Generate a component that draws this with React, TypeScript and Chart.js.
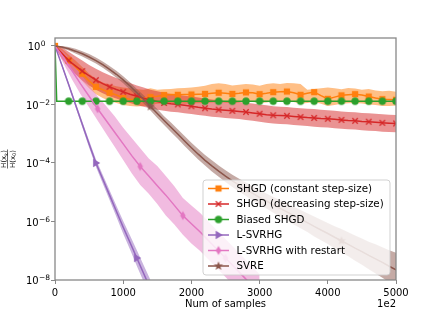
import { useEffect, useRef } from "react";
import { Chart, registerables } from "chart.js";

Chart.register(...registerables);

const FONT = "'DejaVu Sans', 'Liberation Sans', sans-serif";

// x positions (units of 1e2 samples)
const samples = [0, 100, 200, 300, 400, 500, 600, 700, 800, 900, 1000, 1100, 1200, 1300, 1400, 1500, 1600, 1700, 1800, 1900, 2000, 2100, 2200, 2300, 2400, 2500, 2600, 2700, 2800, 2900, 3000, 3100, 3200, 3300, 3400, 3500, 3600, 3700, 3800, 3900, 4000, 4100, 4200, 4300, 4400, 4500, 4600, 4700, 4800, 4900, 5000];
const biasedSamples = [0, 25, 100, 200, 300, 400, 500, 600, 700, 800, 900, 1000, 1100, 1200, 1300, 1400, 1500, 1600, 1700, 1800, 1900, 2000, 2100, 2200, 2300, 2400, 2500, 2600, 2700, 2800, 2900, 3000, 3100, 3200, 3300, 3400, 3500, 3600, 3700, 3800, 3900, 4000, 4100, 4200, 4300, 4400, 4500, 4600, 4700, 4800, 4900, 5000];
const lsvrhgSamples = [0, 100, 200, 300, 400, 500, 600, 700, 800, 900, 1000, 1100, 1200, 1300, 1400];
const restartSamples = [0, 125, 250, 375, 500, 625, 750, 875, 1000, 1125, 1250, 1375, 1500, 1625, 1750, 1875, 2000, 2125, 2250, 2375, 2500, 2625, 2750, 2875, 3000];

const xTicks = [0, 1000, 2000, 3000, 4000, 5000];
const yTickExponents = [0, -2, -4, -6, -8];

const labels = [
  "SHGD (constant step-size)",
  "SHGD (decreasing step-size)",
  "Biased SHGD",
  "L-SVRHG",
  "L-SVRHG with restart",
  "SVRE",
];

// values as log10 of H(x_k)/H(x_0)
const constMean = [0, -0.25, -0.5, -0.72, -0.95, -1.2, -1.4, -1.5, -1.6, -1.68, -1.78, -1.82, -1.84, -1.8, -1.75, -1.72, -1.68, -1.66, -1.67, -1.66, -1.66, -1.65, -1.64, -1.62, -1.6, -1.62, -1.64, -1.62, -1.59, -1.6, -1.65, -1.62, -1.58, -1.57, -1.56, -1.6, -1.67, -1.62, -1.58, -1.7, -1.81, -1.75, -1.69, -1.67, -1.65, -1.68, -1.73, -1.78, -1.82, -1.83, -1.84];
const constHi = [0.05, -0.1, -0.3, -0.5, -0.72, -0.95, -1.12, -1.25, -1.32, -1.38, -1.42, -1.45, -1.48, -1.5, -1.45, -1.5, -1.48, -1.47, -1.45, -1.44, -1.42, -1.4, -1.36, -1.3, -1.28, -1.3, -1.35, -1.33, -1.3, -1.32, -1.36, -1.3, -1.28, -1.3, -1.27, -1.28, -1.3, -1.5, -1.47, -1.45, -1.42, -1.45, -1.48, -1.44, -1.46, -1.5, -1.47, -1.52, -1.55, -1.53, -1.57];
const constLo = [-0.05, -0.4, -0.7, -0.95, -1.2, -1.45, -1.65, -1.78, -1.88, -1.95, -2.02, -2.05, -2.07, -2.05, -2.02, -1.98, -1.97, -1.96, -1.97, -1.98, -1.97, -1.96, -1.95, -1.93, -1.92, -1.94, -1.96, -1.93, -1.91, -1.92, -1.95, -1.93, -1.9, -1.9, -1.88, -1.92, -1.98, -1.95, -1.92, -1.98, -2.05, -2.02, -1.98, -1.96, -1.95, -1.97, -2.0, -2.02, -2.05, -2.05, -2.04];

const decMean = [0, -0.25, -0.5, -0.68, -0.86, -1.02, -1.17, -1.29, -1.4, -1.49, -1.57, -1.65, -1.72, -1.79, -1.85, -1.9, -1.95, -1.98, -2.0, -2.03, -2.06, -2.1, -2.13, -2.16, -2.18, -2.2, -2.22, -2.24, -2.26, -2.29, -2.32, -2.35, -2.37, -2.38, -2.39, -2.41, -2.43, -2.45, -2.46, -2.48, -2.49, -2.51, -2.53, -2.55, -2.56, -2.58, -2.59, -2.61, -2.63, -2.64, -2.65];
const decHi = [0.05, -0.05, -0.2, -0.35, -0.5, -0.65, -0.78, -0.9, -1.0, -1.1, -1.18, -1.27, -1.35, -1.42, -1.5, -1.55, -1.6, -1.64, -1.67, -1.7, -1.73, -1.76, -1.8, -1.83, -1.86, -1.88, -1.9, -1.92, -1.94, -1.97, -2.0, -2.03, -2.06, -2.08, -2.09, -2.11, -2.13, -2.15, -2.16, -2.18, -2.2, -2.22, -2.24, -2.26, -2.27, -2.29, -2.3, -2.32, -2.34, -2.35, -2.36];
const decLo = [-0.05, -0.45, -0.75, -0.98, -1.18, -1.35, -1.5, -1.62, -1.72, -1.8, -1.88, -1.95, -2.02, -2.08, -2.13, -2.18, -2.22, -2.25, -2.27, -2.3, -2.33, -2.36, -2.39, -2.42, -2.44, -2.46, -2.48, -2.5, -2.53, -2.56, -2.59, -2.63, -2.65, -2.67, -2.68, -2.7, -2.72, -2.74, -2.76, -2.78, -2.79, -2.81, -2.83, -2.85, -2.86, -2.88, -2.9, -2.91, -2.93, -2.94, -2.95];

const biasedMean = [0, -1.89, -1.89, -1.89, -1.89, -1.89, -1.89, -1.89, -1.89, -1.89, -1.89, -1.89, -1.89, -1.89, -1.89, -1.89, -1.89, -1.89, -1.89, -1.89, -1.89, -1.89, -1.89, -1.89, -1.89, -1.89, -1.89, -1.89, -1.89, -1.89, -1.89, -1.89, -1.89, -1.89, -1.89, -1.89, -1.89, -1.89, -1.89, -1.89, -1.89, -1.89, -1.89, -1.89, -1.89, -1.89, -1.89, -1.89, -1.89, -1.89, -1.89, -1.89];

const lsvrhgMean = [0, -0.65, -1.32, -2.0, -2.68, -3.35, -4.0, -4.55, -5.1, -5.65, -6.2, -6.72, -7.25, -7.78, -8.3];
const lsvrhgHi = [0, -0.6, -1.25, -1.92, -2.58, -3.23, -3.87, -4.4, -4.93, -5.46, -5.98, -6.48, -6.98, -7.5, -8.0];
const lsvrhgLo = [0, -0.7, -1.39, -2.08, -2.78, -3.47, -4.13, -4.7, -5.27, -5.84, -6.42, -6.96, -7.52, -8.06, -8.6];

const restartMean = [0, -0.4, -0.85, -1.3, -1.72, -2.15, -2.55, -2.95, -3.35, -3.75, -4.12, -4.45, -4.78, -5.1, -5.45, -5.8, -6.08, -6.35, -6.65, -6.95, -7.25, -7.55, -7.85, -8.15, -8.45];
const restartHi = [0.02, -0.2, -0.55, -0.95, -1.35, -1.72, -2.05, -2.4, -2.8, -3.15, -3.5, -3.85, -4.1, -4.45, -4.8, -5.2, -5.45, -5.7, -6.0, -6.3, -6.6, -6.9, -7.2, -7.5, -7.8];
const restartLo = [-0.02, -0.6, -1.15, -1.65, -2.1, -2.55, -3.0, -3.45, -3.9, -4.35, -4.75, -5.05, -5.4, -5.8, -6.1, -6.45, -6.75, -7.0, -7.3, -7.6, -7.9, -8.2, -8.5, -8.8, -9.1];

const svreMean = [0, -0.04, -0.1, -0.18, -0.27, -0.38, -0.5, -0.64, -0.8, -0.97, -1.16, -1.37, -1.6, -1.83, -2.07, -2.31, -2.55, -2.78, -3.01, -3.25, -3.48, -3.7, -3.91, -4.1, -4.28, -4.45, -4.61, -4.76, -4.9, -5.04, -5.18, -5.3, -5.43, -5.55, -5.67, -5.8, -5.92, -6.04, -6.17, -6.29, -6.41, -6.54, -6.66, -6.78, -6.91, -7.03, -7.16, -7.28, -7.4, -7.53, -7.65];
const svreHi = [0, 0.0, -0.04, -0.1, -0.18, -0.28, -0.4, -0.53, -0.69, -0.85, -1.04, -1.24, -1.47, -1.69, -1.93, -2.16, -2.4, -2.62, -2.85, -3.08, -3.31, -3.52, -3.73, -3.91, -4.09, -4.25, -4.4, -4.54, -4.67, -4.8, -4.93, -5.04, -5.16, -5.27, -5.38, -5.5, -5.61, -5.72, -5.83, -5.94, -6.05, -6.16, -6.26, -6.37, -6.48, -6.58, -6.69, -6.78, -6.88, -6.98, -7.07];
const svreLo = [0, -0.08, -0.16, -0.26, -0.36, -0.48, -0.6, -0.75, -0.91, -1.09, -1.28, -1.5, -1.73, -1.97, -2.21, -2.46, -2.7, -2.94, -3.17, -3.42, -3.65, -3.88, -4.09, -4.29, -4.47, -4.65, -4.82, -4.98, -5.13, -5.28, -5.43, -5.56, -5.7, -5.83, -5.96, -6.1, -6.23, -6.36, -6.51, -6.64, -6.77, -6.92, -7.06, -7.19, -7.34, -7.48, -7.63, -7.78, -7.92, -8.08, -8.23];

// where markers are drawn (x positions)
const constMarks = [0, 200, 400, 600, 800, 1000, 1200, 1400, 1600, 1800, 2000, 2200, 2400, 2600, 2800, 3000, 3200, 3400, 3600, 3800, 4000, 4200, 4400, 4600, 4800, 5000];
const decMarks = [200, 400, 600, 800, 1000, 1200, 1400, 1600, 1800, 2000, 2200, 2400, 2600, 2800, 3000, 3200, 3400, 3600, 3800, 4000, 4200, 4400, 4600, 4800, 5000];
const biasedMarks = [200, 400, 600, 800, 1000, 1200, 1400, 1600, 1800, 2000, 2200, 2400, 2600, 2800, 3000, 3200, 3400, 3600, 3800, 4000, 4200, 4400, 4600, 4800, 5000];
const lsvrhgMarks = [600, 1200];
const restartMarks = [625, 1250, 1875, 2500];
const svreMarks = [1400, 2800, 4200];

const COLORS = ["#ff7f0e", "#d62728", "#2ca02c", "#9467bd", "#e377c2", "#8c564b"];
const BANDS = [
  "rgba(255,127,14,0.5)",
  "rgba(214,39,40,0.5)",
  "rgba(44,160,44,0.5)",
  "rgba(148,103,189,0.5)",
  "rgba(227,119,194,0.5)",
  "rgba(140,86,75,0.5)",
];
const MARKER_KINDS = ["square", "x", "circle", "tri", "diamond", "star"];

function toPoints(xs: number[], logs: number[]) {
  return xs.map((x, i) => ({ x, y: Math.pow(10, logs[i]) }));
}

function makeMarker(kind: string, color: string): HTMLCanvasElement {
  const c = document.createElement("canvas");
  c.width = 14;
  c.height = 14;
  const g = c.getContext("2d")!;
  const m = 7;
  g.fillStyle = color;
  g.strokeStyle = color;
  g.beginPath();
  if (kind === "square") {
    g.fillRect(m - 3.1, m - 3.1, 6.2, 6.2);
  } else if (kind === "x") {
    g.lineWidth = 1.3;
    g.moveTo(m - 2.7, m - 2.7);
    g.lineTo(m + 2.7, m + 2.7);
    g.moveTo(m + 2.7, m - 2.7);
    g.lineTo(m - 2.7, m + 2.7);
    g.stroke();
  } else if (kind === "circle") {
    g.arc(m, m, 3.7, 0, Math.PI * 2);
    g.fill();
  } else if (kind === "tri") {
    g.moveTo(m + 4.3, m);
    g.lineTo(m - 2.8, m - 4.2);
    g.lineTo(m - 2.8, m + 4.2);
    g.closePath();
    g.fill();
  } else if (kind === "diamond") {
    g.moveTo(m, m - 4.6);
    g.lineTo(m + 2.7, m);
    g.lineTo(m, m + 4.6);
    g.lineTo(m - 2.7, m);
    g.closePath();
    g.fill();
  } else if (kind === "star") {
    for (let i = 0; i < 10; i++) {
      const r = i % 2 === 0 ? 4.8 : 2.0;
      const ang = -Math.PI / 2 + (i * Math.PI) / 5;
      const px = m + r * Math.cos(ang);
      const py = m + r * Math.sin(ang);
      if (i === 0) g.moveTo(px, py);
      else g.lineTo(px, py);
    }
    g.closePath();
    g.fill();
  }
  return c;
}

export default function App() {
  const ref = useRef<HTMLCanvasElement | null>(null);

  useEffect(() => {
    document.body.style.margin = "0";
    const canvas = ref.current;
    if (!canvas) return;

    const markers = MARKER_KINDS.map((k, i) => makeMarker(k, COLORS[i]));

    const band = (xs: number[], hi: number[], lo: number[], color: string, order: number) => [
      {
        data: toPoints(xs, hi),
        borderColor: "rgba(0,0,0,0)",
        borderWidth: 0,
        pointRadius: 0,
        fill: "+1",
        backgroundColor: color,
        order,
      },
      {
        data: toPoints(xs, lo),
        borderColor: "rgba(0,0,0,0)",
        borderWidth: 0,
        pointRadius: 0,
        fill: false,
        order,
      },
    ];

    const line = (xs: number[], mean: number[], idx: number, marks: number[], order: number) => ({
      label: labels[idx],
      data: toPoints(xs, mean),
      borderColor: COLORS[idx],
      backgroundColor: COLORS[idx],
      borderWidth: 1.5,
      fill: false,
      pointStyle: markers[idx],
      pointRadius: (ctx: any) => (ctx.raw && marks.includes(ctx.raw.x) ? 4 : 0),
      order,
    });

    const datasets: any[] = [
      ...band(samples, constHi, constLo, BANDS[0], 20),
      ...band(samples, decHi, decLo, BANDS[1], 19),
      ...band(lsvrhgSamples, lsvrhgHi, lsvrhgLo, BANDS[3], 18),
      ...band(restartSamples, restartHi, restartLo, BANDS[4], 17),
      ...band(samples, svreHi, svreLo, BANDS[5], 16),
      line(samples, constMean, 0, constMarks, 10),
      line(samples, decMean, 1, decMarks, 9),
      line(biasedSamples, biasedMean, 2, biasedMarks, 8),
      line(lsvrhgSamples, lsvrhgMean, 3, lsvrhgMarks, 7),
      line(restartSamples, restartMean, 4, restartMarks, 6),
      line(samples, svreMean, 5, svreMarks, 5),
    ];

    const decor = {
      id: "decor",
      afterDraw(chart: any) {
        const { ctx, chartArea: a, scales } = chart;
        ctx.save();

        // legend
        const lw = 187;
        const lh = 95;
        const lx = a.right - 6 - lw;
        const ly = a.bottom - 5 - lh;
        ctx.beginPath();
        if (ctx.roundRect) ctx.roundRect(lx, ly, lw, lh, 3);
        else ctx.rect(lx, ly, lw, lh);
        ctx.fillStyle = "rgba(255,255,255,0.8)";
        ctx.fill();
        ctx.strokeStyle = "rgba(204,204,204,0.9)";
        ctx.lineWidth = 1;
        ctx.stroke();
        ctx.font = `10.3px ${FONT}`;
        ctx.textAlign = "left";
        ctx.textBaseline = "middle";
        labels.forEach((lab, i) => {
          const y = ly + 8.5 + i * 15.5;
          ctx.strokeStyle = COLORS[i];
          ctx.lineWidth = 1.5;
          ctx.beginPath();
          ctx.moveTo(lx + 5, y);
          ctx.lineTo(lx + 26, y);
          ctx.stroke();
          const mk = markers[i];
          ctx.drawImage(mk, lx + 15.5 - mk.width / 2, y - mk.height / 2);
          ctx.fillStyle = "#000";
          ctx.fillText(lab, lx + 33.5, y + 0.5);
        });

        // spines
        ctx.strokeStyle = "#888";
        ctx.lineWidth = 1.3;
        ctx.strokeRect(a.left, a.top, a.right - a.left, a.bottom - a.top);

        // y tick labels 10^e
        ctx.fillStyle = "#000";
        ctx.textBaseline = "alphabetic";
        ctx.textAlign = "right";
        yTickExponents.forEach((e) => {
          const y = scales.y.getPixelForValue(Math.pow(10, e));
          const sup = e === 0 ? "0" : "\u2212" + Math.abs(e);
          const right = e === 0 ? 45.5 : 50;
          ctx.font = `7.5px ${FONT}`;
          const w = ctx.measureText(sup).width;
          ctx.fillText(sup, right, y + 0.3);
          ctx.font = `10px ${FONT}`;
          ctx.fillText("10", right - w - 0.3, y + 4.2);
        });

        // x label and offset text
        ctx.font = `10px ${FONT}`;
        ctx.textBaseline = "middle";
        ctx.textAlign = "center";
        ctx.fillText("Num of samples", (a.left + a.right) / 2, 304);
        ctx.textAlign = "right";
        ctx.fillText("1e2", a.right, 304);

        // y label: H(x_k)/H(x_0)
        const cx = 8;
        const cy = (a.top + a.bottom) / 2;
        ctx.translate(cx, cy);
        ctx.rotate(-Math.PI / 2);
        const drawFrac = (sub: string, yOff: number) => {
          ctx.font = `7px ${FONT}`;
          const w1 = ctx.measureText("H(x").width;
          const w3 = ctx.measureText(")").width;
          ctx.font = `5px ${FONT}`;
          const w2 = ctx.measureText(sub).width;
          const total = w1 + w2 + w3;
          let x = -total / 2;
          ctx.textAlign = "left";
          ctx.textBaseline = "alphabetic";
          ctx.font = `7px ${FONT}`;
          ctx.fillText("H(x", x, yOff);
          x += w1;
          ctx.font = `5px ${FONT}`;
          ctx.fillText(sub, x, yOff + 1.5);
          x += w2;
          ctx.font = `7px ${FONT}`;
          ctx.fillText(")", x, yOff);
          return total;
        };
        const t1 = drawFrac("k", -1.8);
        const t2 = drawFrac("0", 6.6);
        const bw = Math.max(t1, t2) + 1;
        ctx.fillRect(-bw / 2, -0.9, bw, 0.6);

        ctx.restore();
      },
    };

    const chart = new Chart(canvas, {
      type: "line",
      data: { datasets },
      plugins: [decor],
      options: {
        animation: false,
        responsive: false,
        devicePixelRatio: 1,
        events: [],
        layout: { padding: { left: 0, right: 44, top: 38, bottom: 0 } },
        plugins: {
          legend: { display: false },
          tooltip: { enabled: false },
          filler: { propagate: false },
        },
        elements: { line: { tension: 0 } },
        scales: {
          x: {
            type: "linear",
            min: 0,
            max: 5000,
            afterBuildTicks: (s: any) => {
              s.ticks = xTicks.map((v) => ({ value: v }));
            },
            afterFit: (s: any) => {
              s.height = 35;
            },
            ticks: {
              callback: (v: any) => String(v),
              font: { family: FONT, size: 10 },
              color: "#000",
              padding: 3,
              maxRotation: 0,
              autoSkip: false,
            },
            grid: { drawOnChartArea: false, drawTicks: true, tickLength: 4, color: "#888", lineWidth: 1 },
            border: { display: false },
          },
          y: {
            type: "logarithmic",
            min: 1e-8,
            max: Math.pow(10, 0.27),
            afterBuildTicks: (s: any) => {
              s.ticks = yTickExponents.map((e) => ({ value: Math.pow(10, e) }));
            },
            afterFit: (s: any) => {
              s.width = 55;
            },
            ticks: {
              callback: () => "",
              font: { family: FONT, size: 10 },
              padding: 0,
              autoSkip: false,
            },
            grid: { drawOnChartArea: false, drawTicks: true, tickLength: 4, color: "#888", lineWidth: 1 },
            border: { display: false },
          },
        },
      } as any,
    });

    return () => chart.destroy();
  }, []);

  return (
    <div style={{ width: 440, height: 315, background: "#fff" }}>
      <canvas ref={ref} width={440} height={315} />
    </div>
  );
}
